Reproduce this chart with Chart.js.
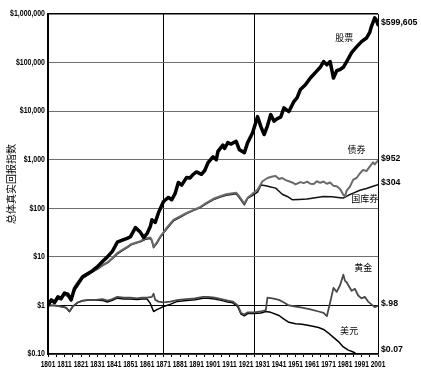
<!DOCTYPE html>
<html>
<head>
<meta charset="utf-8">
<script src="https://cdn.jsdelivr.net/npm/chart.js@4.4.1/dist/chart.umd.min.js"></script>
<style>
  html, body { margin: 0; padding: 0; background: #fff; }
</style>
</head>
<body>
<canvas id="chart" width="421" height="376"></canvas>
<script>
// Real total return index, $1 invested in 1801
const stockYears = [1801,1803,1805,1807,1809,1811,1813,1815,1817,1819,1822,1825,1828,1831,1834,1837,1840,1843,1846,1849,1851,1854,1857,1859,1861,1863,1864,1866,1868,1871,1874,1876,1878,1880,1882,1885,1887,1889,1891,1894,1896,1898,1901,1903,1904,1907,1908,1910,1912,1915,1917,1920,1922,1925,1928,1930,1932,1934,1936,1938,1940,1942,1944,1947,1950,1952,1954,1957,1960,1963,1966,1968,1970,1972,1974,1976,1978,1980,1982,1985,1988,1991,1994,1996,1997,1999,2000,2001];
const stockValues = [1,1.3,1.15,1.5,1.4,1.8,1.7,1.3,2.2,2.8,3.9,4.5,5.2,6.3,8,10,13,20,22,24,26,40,32,25,30,42,58,51,82,138,167,150,200,340,300,430,420,500,560,500,600,870,1150,1000,1480,2000,1700,2250,2100,2400,1600,1400,2250,3600,7700,4800,3300,5000,8500,6200,7000,7500,11700,9800,15700,19000,28000,35000,48000,62000,80000,105000,90000,105000,48000,68000,72000,80000,105000,160000,210000,270000,320000,420000,550000,830000,750000,599605];

const bondYears = [1801,1803,1805,1807,1809,1811,1813,1815,1817,1819,1822,1825,1828,1831,1834,1837,1840,1843,1846,1849,1851,1854,1857,1860,1863,1864,1865,1867,1869,1871,1873,1877,1881,1885,1889,1893,1897,1901,1905,1909,1913,1915,1917,1920,1922,1925,1928,1931,1934,1937,1939,1941,1943,1945,1947,1949,1951,1954,1956,1958,1960,1962,1964,1966,1968,1970,1972,1974,1976,1978,1980,1981,1982,1984,1986,1988,1990,1992,1994,1996,1998,1999,2000,2001];
const bondValues = [1,1.25,1.1,1.4,1.35,1.7,1.6,1.3,2.1,2.6,3.7,4.3,5,5.8,6.8,7.7,9.5,12,14,16,18,19.5,21,24,25,22,16,20,26,32,40,58,68,80,92,105,130,155,175,195,205,210,175,125,165,200,240,360,420,450,460,400,420,380,360,340,310,345,330,355,320,315,360,335,355,320,340,290,285,250,190,175,230,280,390,420,520,620,580,720,880,800,880,952];

const billYears = [1801,1803,1805,1807,1809,1811,1813,1815,1817,1819,1822,1825,1828,1831,1834,1837,1840,1843,1846,1849,1851,1854,1857,1860,1863,1864,1865,1867,1869,1871,1873,1877,1881,1885,1889,1893,1897,1901,1905,1909,1913,1915,1917,1920,1922,1925,1928,1930,1933,1936,1939,1941,1943,1946,1949,1953,1958,1963,1968,1973,1978,1980,1983,1986,1990,1994,1998,2001];
const billValues = [1,1.2,1.1,1.35,1.3,1.65,1.55,1.25,2,2.5,3.6,4.2,4.9,5.6,6.6,7.5,9.2,11.5,13.5,15.5,17.5,19,20.5,23,24,21,15.5,19,25,31,38,55,65,78,90,102,125,150,168,185,195,200,165,118,160,185,215,300,290,275,260,225,195,175,150,152,155,165,175,172,165,162,185,205,235,255,285,304];

const goldYears = [1801,1805,1809,1812,1814,1816,1819,1822,1826,1830,1834,1837,1840,1843,1847,1851,1855,1858,1861,1864,1865,1866,1868,1871,1875,1880,1885,1890,1895,1898,1902,1906,1910,1913,1916,1918,1920,1922,1926,1930,1933,1934,1937,1941,1944,1947,1951,1955,1960,1965,1968,1970,1972,1974,1976,1978,1980,1981,1982,1983,1985,1987,1989,1991,1993,1995,1997,1999,2001];
const goldValues = [1,1,0.95,0.9,0.75,0.95,1.15,1.25,1.3,1.3,1.35,1.25,1.35,1.5,1.45,1.45,1.4,1.45,1.45,1.5,1.75,1.3,1.2,1.15,1.2,1.3,1.35,1.4,1.5,1.5,1.45,1.35,1.25,1.2,1,0.7,0.65,0.72,0.72,0.75,0.8,1.45,1.4,1.3,1.15,1,0.95,0.9,0.83,0.75,0.7,0.6,1.15,2.3,1.9,2.6,4.3,3.2,3,2.6,2,2.2,1.6,1.4,1.5,1.2,1.05,0.92,0.98];

const dollarYears = [1801,1805,1809,1812,1814,1816,1819,1822,1826,1830,1834,1837,1840,1843,1847,1851,1855,1858,1861,1863,1865,1867,1869,1871,1875,1879,1885,1890,1895,1898,1902,1906,1910,1913,1916,1918,1920,1922,1926,1930,1933,1936,1941,1944,1947,1951,1955,1960,1965,1968,1971,1974,1977,1980,1983,1986,1989,1992,1995,1998,2001];
const dollarValues = [1,1,0.95,0.9,0.75,0.95,1.15,1.25,1.3,1.3,1.27,1.18,1.27,1.41,1.36,1.36,1.32,1.36,1.36,1.1,0.75,0.82,0.88,0.95,1.05,1.2,1.27,1.31,1.4,1.4,1.36,1.27,1.17,1.13,0.94,0.66,0.61,0.68,0.68,0.7,0.75,0.72,0.62,0.52,0.45,0.42,0.41,0.38,0.35,0.32,0.27,0.22,0.18,0.14,0.12,0.11,0.095,0.085,0.08,0.075,0.07];

const seriesNames = ['股票', '债券', '国库券', '黄金', '美元'];
const endLabels = ['$599,605', '$952', '$304', '$.98', '$0.07'];

const yTicks = [0.1, 1, 10, 100, 1000, 10000, 100000, 1000000];
const yTickLabels = ['$0.10', '$1', '$10', '$100', '$1,000', '$10,000', '$100,000', '$1,000,000'];
const xTickLabels = ['1801','1811','1821','1831','1841','1851','1861','1871','1881','1891','1901','1911','1921','1931','1941','1951','1961','1971','1981','1991','2001'];
const markerYears = [1871, 1926];

// where the series names sit, in data units
const nameAnchors = [
  { year: 1980.5, value: 330000 },
  { year: 1988, value: 1600 },
  { year: 1993, value: 160 },
  { year: 1992, value: 6 },
  { year: 1983.5, value: 0.31 }
];

const sansBold = 'bold 8.5px "Liberation Sans", Arial, sans-serif';
const cjk = '"Noto Sans CJK SC", "Noto Sans", sans-serif';

const toPoints = (years, vals) => years.map((yr, i) => ({ x: yr, y: vals[i] }));
const allValues = [stockValues, bondValues, billValues, goldValues, dollarValues];

// condensed text: canvas has no narrow font here, so squeeze horizontally
function narrowText(ctx, txt, x, y, align, squeeze) {
  ctx.save();
  ctx.translate(x, y);
  ctx.scale(squeeze, 1);
  ctx.textAlign = align;
  ctx.fillText(txt, 0, 0);
  ctx.restore();
}

const labelPlugin = {
  id: 'seriesLabels',
  afterDraw(chart) {
    const { ctx, chartArea, scales } = chart;
    ctx.save();
    ctx.fillStyle = '#000';
    ctx.textBaseline = 'middle';

    // tick labels
    ctx.font = sansBold;
    yTicks.forEach((v, i) => {
      narrowText(ctx, yTickLabels[i], chartArea.left - 3, scales.y.getPixelForValue(v), 'right', 0.82);
    });
    xTickLabels.forEach((lbl) => {
      narrowText(ctx, lbl, scales.x.getPixelForValue(Number(lbl)), chartArea.bottom + 11, 'center', 0.78);
    });

    // value at the end of each line, right of the plot
    ctx.font = 'bold 9.5px "Liberation Sans", Arial, sans-serif';
    endLabels.forEach((txt, i) => {
      const vals = allValues[i];
      let py = scales.y.getPixelForValue(vals[vals.length - 1]);
      py = Math.min(Math.max(py - 2, chartArea.top + 8), chartArea.bottom - 5);
      narrowText(ctx, txt, chartArea.right + 3, py, 'left', 0.92);
    });

    // series names inside the plot
    ctx.font = '9px ' + cjk;
    ctx.textAlign = 'center';
    seriesNames.forEach((name, i) => {
      const a = nameAnchors[i];
      ctx.fillText(name, scales.x.getPixelForValue(a.year), scales.y.getPixelForValue(a.value));
    });
    ctx.restore();
  }
};

new Chart(document.getElementById('chart'), {
  type: 'line',
  data: {
    datasets: [
      { label: seriesNames[0], data: toPoints(stockYears, stockValues), borderColor: '#000', borderWidth: 3.5 },
      { label: seriesNames[1], data: toPoints(bondYears, bondValues), borderColor: '#6a6a6a', borderWidth: 2 },
      { label: seriesNames[2], data: toPoints(billYears, billValues), borderColor: '#111', borderWidth: 1.5 },
      { label: seriesNames[3], data: toPoints(goldYears, goldValues), borderColor: '#4a4a4a', borderWidth: 1.8 },
      { label: seriesNames[4], data: toPoints(dollarYears, dollarValues), borderColor: '#000', borderWidth: 1.5 }
    ]
  },
  options: {
    responsive: false,
    animation: false,
    layout: { padding: { left: 0, right: 43, top: 14, bottom: 0 } },
    elements: {
      point: { radius: 0 },
      line: { tension: 0, borderJoinStyle: 'round', borderCapStyle: 'round' }
    },
    plugins: {
      legend: { display: false },
      tooltip: { enabled: false }
    },
    scales: {
      x: {
        type: 'linear',
        min: 1801,
        max: 2001,
        afterBuildTicks(scale) {
          const ticks = [];
          xTickLabels.forEach((lbl, i) => {
            const v = Number(lbl);
            ticks.push({ value: v });
            if (i < xTickLabels.length - 1) ticks.push({ value: v + 5 });
          });
          scale.ticks = ticks;
        },
        afterFit(scale) { scale.height = 22; },
        ticks: { display: false },
        grid: {
          color: (c) => c.tick && (markerYears.includes(c.tick.value) || c.tick.value === 2001) ? '#000' : 'rgba(0,0,0,0)',
          tickColor: '#000',
          tickLength: 3,
          lineWidth: 1
        },
        border: { color: '#000', width: 1.5 }
      },
      y: {
        type: 'logarithmic',
        min: 0.1,
        max: 1000000,
        afterBuildTicks(scale) { scale.ticks = yTicks.map(v => ({ value: v })); },
        afterFit(scale) { scale.width = 48; },
        ticks: { display: false },
        grid: {
          drawTicks: false,
          color: (c) => c.tick && (c.tick.value === 1 || c.tick.value === 1000000) ? '#000' : '#707070',
          lineWidth: (c) => c.tick && c.tick.value === 1000000 ? 1.5 : 1
        },
        border: { color: '#000', width: 2 },
        title: {
          display: true,
          text: '总体真实回报指数',
          color: '#000',
          padding: { top: 5, bottom: 0 },
          font: { family: cjk, size: 10 }
        }
      }
    }
  },
  plugins: [labelPlugin]
});
</script>
</body>
</html>
